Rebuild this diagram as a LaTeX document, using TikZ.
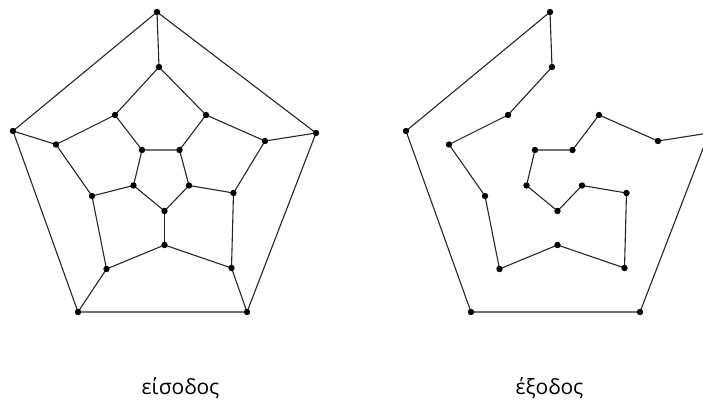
\documentclass[tikz,border=0pt]{standalone}
\usepackage{fontspec}
\setmainfont{Open Sans}
\usepackage{tikz}
\usetikzlibrary{calc}

% vertices of the dodecahedron drawing, names start with #1
\newcommand{\dodecaverts}[1]{%
	\coordinate (#1O1) at (157,12);
	\coordinate (#1O2) at (316,133);
	\coordinate (#1O3) at (247,312);
	\coordinate (#1O4) at (78,312);
	\coordinate (#1O5) at (13,131);
	\coordinate (#1S1) at (159,67);
	\coordinate (#1S2) at (265,141);
	\coordinate (#1S3) at (231.5,268);
	\coordinate (#1S4) at (106.5,269);
	\coordinate (#1S5) at (56,144.5);
	\coordinate (#1M1) at (115,115);
	\coordinate (#1M2) at (206,115);
	\coordinate (#1M3) at (233.5,193);
	\coordinate (#1M4) at (164.5,245);
	\coordinate (#1M5) at (92,196);
	\coordinate (#1I1) at (142,150);
	\coordinate (#1I2) at (179.5,150);
	\coordinate (#1I3) at (189,185.5);
	\coordinate (#1I4) at (164.5,211);
	\coordinate (#1I5) at (133.5,185.5);
}

\tikzset{
	edge/.style={line width=1.1pt, black!85},
	vertex/.style={black},
	caption/.style={anchor=base, font=\fontsize{21}{25}\selectfont}
}

\begin{document}
\begin{tikzpicture}[x=1pt, y=-1pt]
		\useasboundingbox (0,0) rectangle (703,403);
		\clip (0,0) rectangle (703,403);
		% input graph
		\dodecaverts{L}
		\draw[edge] (LO1)--(LO2)--(LO3)--(LO4)--(LO5)--cycle;
		\draw[edge] (LI1)--(LI2)--(LI3)--(LI4)--(LI5)--cycle;
		\draw[edge] (LS1)--(LM2)--(LS2)--(LM3)--(LS3)--(LM4)--(LS4)--(LM5)--(LS5)--(LM1)--cycle;
		\draw[edge] (LO1)--(LS1);
		\draw[edge] (LO2)--(LS2);
		\draw[edge] (LO3)--(LS3);
		\draw[edge] (LO4)--(LS4);
		\draw[edge] (LO5)--(LS5);
		\draw[edge] (LM1)--(LI1);
		\draw[edge] (LM2)--(LI2);
		\draw[edge] (LM3)--(LI3);
		\draw[edge] (LM4)--(LI4);
		\draw[edge] (LM5)--(LI5);
		% output: hamiltonian cycle
		\begin{scope}[xshift=393pt]
			\dodecaverts{R}
		\end{scope}
		\draw[edge] (RO1)--(RS1)--(RM1)--(RS5)--(RM5)--(RS4)--(RM4)--(RS3)--(RM3)--(RI3)--(RI4)--(RI5)--(RI1)--(RI2)--(RM2)--(RS2)--(RO2)--(RO3)--(RO4)--(RO5)--cycle;
		\foreach \p in {L,R}
			\foreach \v in {O1,O2,O3,O4,O5,S1,S2,S3,S4,S5,M1,M2,M3,M4,M5,I1,I2,I3,I4,I5}
				\fill[vertex] (\p\v) circle (3.2pt);
		\node[caption] (in) at (180.5,394) {είσοδος};
		\node[caption] (out) at (549.5,394) {έξοδος};
	\end{tikzpicture}
\end{document}
